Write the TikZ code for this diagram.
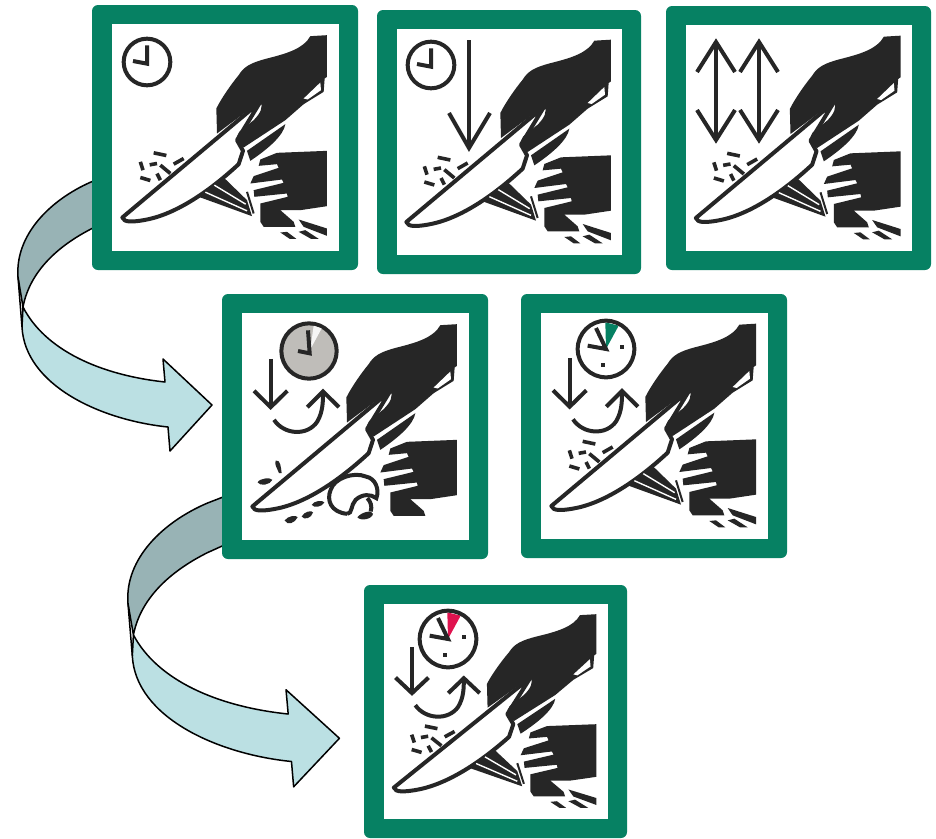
\documentclass[tikz,border=0pt]{standalone}
\usepackage{xcolor}
\usetikzlibrary{positioning,calc}
\definecolor{panelgreen}{HTML}{068163}
\definecolor{artink}{HTML}{262626}
\definecolor{ribbondark}{HTML}{98B3B5}
\definecolor{ribbonlight}{HTML}{BBE0E3}
\definecolor{clockgrey}{HTML}{BFBDB9}
\definecolor{clockred}{HTML}{E0134F}
\tikzset{
  panelbox/.style={fill=panelgreen,rounded corners=6pt,inner sep=0pt,outer sep=0pt},
  innerbox/.style={fill=white,inner sep=0pt,outer sep=0pt},
  artline/.style={draw=artink,line width=4pt},
  crumb/.style={draw=artink,line width=3.6pt},
  ribbon/.style={draw=black,line width=1.5pt,line join=round},
  artsize/.style={scale=0.3333},
  pics/knifehand/.style={code={
    \begin{scope}[shift={(-404,-412)}]
    \filldraw[fill=white,draw=artink,line width=4pt,line join=round] (510,305) -- (96,652) .. controls (100,668) and (130,665) .. (160,660) .. controls (250,645) and (350,580) .. (445,492) -- (458,452) -- (440,420) -- cycle;
    \fill[artink] (710,105) -- (660,108) .. controls (640,145) and (590,160) .. (530,175) .. controls (480,188) and (460,200) .. (445,225) .. controls (420,255) and (390,300) .. (378,325) -- (380,400) -- (510,303) .. controls (520,320) and (510,340) .. (490,360) -- (447,395) .. controls (436,410) and (436,425) .. (460,442) -- (585,360) -- (640,312) -- (700,275) -- (703,235) -- (710,230) -- cycle;
    \fill[white] (640,295) -- (690,247) -- (692,270) -- (652,298) -- cycle;
    \fill[artink] (470,452) -- (585,372) .. controls (580,405) and (535,445) .. (480,482) -- cycle;
    \fill[artink] (710,452) -- (560,458) -- (510,478) -- (505,497) -- (560,492) -- (565,503) -- (490,528) -- (480,550) -- (575,538) -- (580,548) -- (490,570) -- (492,590) -- (590,580) -- (592,590) -- (510,610) -- (510,665) -- (520,680) -- (615,680) -- (610,665) -- (570,630) -- (630,630) -- (710,618) -- cycle;
    \end{scope}
  }},
  pics/cutstrips/.style={code={
    \begin{scope}[shift={(-404,-412)}]
    \draw[crumb] (190,458) -- (228,466);
    \draw[crumb] (250,492) -- (280,475);
    \draw[crumb] (178,494) -- (200,490);
    \draw[crumb] (150,485) -- (158,510);
    \draw[crumb] (150,532) -- (180,541);
    \draw[crumb] (210,495) -- (240,520);
    \draw[crumb] (200,520) -- (210,540);
    \fill[artink] (400,532) -- (470,600) -- (485,648) -- (325,590) -- cycle;
    \draw[white,line width=1.4pt] (372,555) -- (466,612);
    \draw[white,line width=1.4pt] (345,576) -- (470,632);
    \draw[artink,line width=2pt] (470,575) -- (490,640);
    \fill[artink] (625,658) -- (710,685) -- (710,707) -- (640,680) -- cycle;
    \fill[artink] (570,697) -- (590,695) -- (618,716) -- (598,716) -- cycle;
    \fill[artink] (625,695) -- (645,690) -- (685,716) -- (662,716) -- cycle;
    \end{scope}
  }},
  pics/mushroom/.style={code={
    \begin{scope}[shift={(-408,-410)}]
    \filldraw[fill=white,artline] (385,672) .. controls (335,668) and (322,630) .. (335,600) .. controls (345,565) and (405,545) .. (440,560) .. controls (470,565) and (482,600) .. (472,625) .. controls (455,612) and (430,612) .. (410,630) .. controls (395,645) and (400,672) .. (385,672);
    \draw[artline] (445,625) .. controls (455,635) and (460,650) .. (455,665);
    \fill[artink] (415,682) .. controls (430,665) and (460,660) .. (462,672) .. controls (460,688) and (425,695) .. (415,682);
    \fill[artink] (197,692) .. controls (205,678) and (232,675) .. (236,682) .. controls (228,700) and (205,708) .. (197,692);
    \fill[artink] (248,680) .. controls (255,665) and (280,660) .. (282,668) .. controls (278,685) and (255,692) .. (248,680);
    \fill[artink] (278,645) .. controls (285,632) and (312,630) .. (316,638) .. controls (308,652) and (285,655) .. (278,645);
    \fill[artink] (116,578) .. controls (120,565) and (155,562) .. (160,570) .. controls (155,585) and (122,590) .. (116,578);
    \fill[artink] (170,512) .. controls (185,510) and (185,530) .. (188,550) -- (180,550) .. controls (175,535) and (165,525) .. (170,512);
    \end{scope}
  }},
  pics/downturn/.style={code={
    \begin{scope}[shift={(-408,-410)}]
    \draw[artline] (155,207) -- (155,352);
    \draw[artline] (105,303) -- (155,352) -- (205,303);
    \draw[artline] (165,390) .. controls (195,435) and (265,440) .. (295,395) .. controls (312,365) and (312,335) .. (312,305);
    \draw[artline] (265,352) -- (312,305) -- (360,352);
    \end{scope}
  }},
  pics/plainclock/.style={code={
    \draw[artline] (0,0) circle (70);
    \draw[artline] (0,-50) -- (0,5) -- (-42,-3);
  }},
  pics/greyclock/.style={code={
    \filldraw[fill=clockgrey,artline] (0,0) circle (83);
    \fill[white!85!clockgrey] (4,-5) -- (14,-76) -- (38,-68) -- cycle;
    \draw[artline] (-3,-62) -- (2,7) -- (-33,0);
  }},
  pics/tinyclock/.style={code={
    \fill[#1] (0,0) -- (-2,-80) -- (38,-70) -- cycle;
    \draw[artline] (0,0) circle (85);
    \draw[artline] (-30,-63) -- (0,0) -- (-55,-10);
    \draw[artline] (43,-7) -- (53,-7);
    \draw[artline] (-9,43) -- (-9,53);
  }},
  pics/bandarrow/.style={code={
    \filldraw[fill=ribbondark,ribbon] (106,176) -- (91,182) .. controls (50,200) and (15,235) .. (18,277) -- (23,307) .. controls (30,270) and (60,245) .. (91,229) -- (106,222) -- cycle;
    \filldraw[fill=ribbonlight,ribbon] (23,307) .. controls (45,350) and (100,375) .. (165,382) -- (163,359) -- (212,405) -- (170,451) -- (168,427) .. controls (100,420) and (25,385) .. (22,327) -- cycle;
    \draw[ribbon] (18,277) -- (22,327);
  }}
}
\begin{document}
\begin{tikzpicture}[x=1pt,y=-1pt]
\useasboundingbox (0,0) rectangle (936,838);
\pic {bandarrow};
\pic[xscale=1.09,yscale=1.055,shift={(99.4,294.8)}] {bandarrow};
\foreach \name/\cx/\cy/\w/\h in {A/225/137.5/266/265,B/509/142/264/264,C/798.5/138/265/264,D/355/426.5/266/265,E/654/426/266/264,F/495.5/711.5/263/253} {
  \node[panelbox,minimum width=\w pt,minimum height=\h pt] (panel\name) at (\cx,\cy) {};
  \node[innerbox,minimum width=\w pt-39pt,minimum height=\h pt-38pt] (inner\name) at (panel\name) {};
}
\pic[artsize] at (panelA) {knifehand};
\pic[artsize] at (panelA) {cutstrips};
\pic[artsize] at (147,62) {plainclock};
\pic[artsize] at (panelB) {knifehand};
\pic[artsize] at (panelB) {cutstrips};
\pic[artsize] at (431,65) {plainclock};
\draw[artline] (469,40) -- (469,148);
\draw[artline] (449,113) -- (469,148) -- (490,113);
\pic[artsize] at (panelC) {knifehand};
\pic[artsize] at (panelC) {cutstrips};
\foreach \ax in {716,759} {
  \draw[artline] (\ax,42) -- (\ax,140);
  \draw[artline] (\ax-19,72) -- (\ax,42) -- (\ax+19,72);
  \draw[artline] (\ax-19,110) -- (\ax,140) -- (\ax+19,110);
}
\pic[artsize] at (panelD) {knifehand};
\pic[artsize] at (panelD) {mushroom};
\pic[artsize] at (panelD) {downturn};
\pic[artsize] at (309,351) {greyclock};
\pic[artsize] at (panelE) {knifehand};
\pic[artsize] at (panelE) {cutstrips};
\pic[artsize] at (panelE) {downturn};
\pic[artsize] at (606,349) {tinyclock=panelgreen};
\pic[xscale=0.33,yscale=0.317] at (panelF) {knifehand};
\pic[xscale=0.33,yscale=0.317] at (panelF) {cutstrips};
\pic[xscale=0.33,yscale=0.317] at (panelF) {downturn};
\pic[artsize] at (448,639) {tinyclock=clockred};
\end{tikzpicture}
\end{document}
